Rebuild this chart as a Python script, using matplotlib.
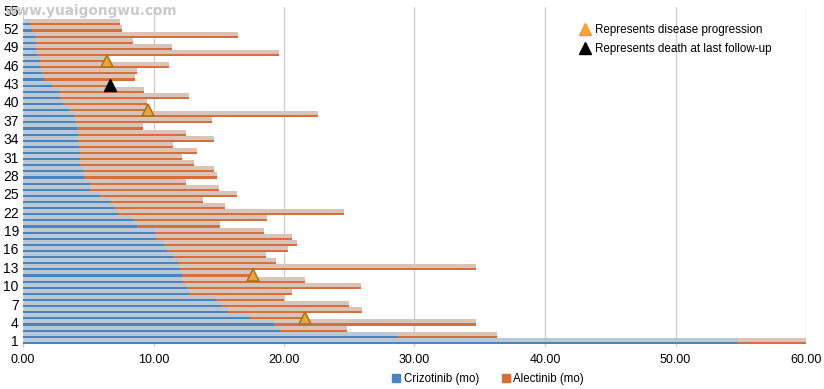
import matplotlib
matplotlib.use("Agg")
import matplotlib.pyplot as plt
from matplotlib.lines import Line2D
from matplotlib.patches import Patch
import numpy as np

plt.rcParams["font.family"] = ["Liberation Sans", "DejaVu Sans"]

# one row per patient, row 1 at the bottom
patients = list(range(1, 54))
crizotinib = [54.7, 28.7, 19.7, 19.2, 17.4, 15.7, 15.2, 14.8, 12.7, 12.6,
              12.2, 12.2, 12.0, 11.9, 11.5, 11.0, 10.8, 10.2, 10.1, 8.7,
              8.4, 7.3, 7.0, 6.7, 5.9, 5.1, 5.1, 4.7, 4.6, 4.4,
              4.4, 4.4, 4.3, 4.2, 4.2, 4.1, 4.0, 3.9, 3.5, 3.1,
              2.8, 2.8, 2.2, 1.6, 1.4, 1.3, 1.3, 1.1, 1.0, 1.0,
              0.9, 0.7, 0.5]
alectinib = [5.4, 7.6, 5.1, 15.5, 4.2, 10.3, 9.8, 5.2, 7.9, 13.3,
             9.4, 5.4, 22.7, 7.5, 7.1, 9.3, 10.2, 10.4, 8.4, 6.4,
             10.3, 17.3, 8.5, 7.1, 10.5, 9.9, 7.4, 10.2, 10.0, 8.7,
             7.8, 8.9, 7.2, 10.4, 8.3, 5.1, 10.5, 18.7, 6.1, 6.4,
             9.9, 6.5, 4.5, 7.0, 7.3, 9.9, 5.1, 18.5, 10.4, 7.4,
             15.6, 6.9, 6.9]
progression_rows = [5, 12, 39, 47]
death_rows = [43]
x_ticks = [0, 10, 20, 30, 40, 50, 60]
y_ticks = list(range(1, 56, 3))

blue_dark, blue_light = "#4a84bf", "#bac8d6"
orange_dark, orange_light = "#d66f3a", "#d9c4b9"

rows = np.array(patients)
criz = np.array(crizotinib)
alec = np.array(alectinib)
ends = criz + alec

fig = plt.figure(figsize=(8.24, 3.89), dpi=100)
ax = fig.add_axes([23 / 824, 1 - 347 / 389, 783 / 824, 340 / 389])

# light band with a darker strip along the lower edge of each bar
ax.barh(rows, criz, height=1.0, color=blue_light, zorder=2)
ax.barh(rows - 0.33, criz, height=0.34, color=blue_dark, zorder=3)
ax.barh(rows, alec, left=criz, height=1.0, color=orange_light, zorder=2)
ax.barh(rows - 0.33, alec, left=criz, height=0.34, color=orange_dark, zorder=3)

prog_idx = [patients.index(r) for r in progression_rows]
death_idx = [patients.index(r) for r in death_rows]
ax.plot(ends[prog_idx], rows[prog_idx] - 0.25, ls="none", marker="^", ms=8,
        mfc="#eba43a", mec="#a8771e", mew=1.2, zorder=5)
ax.plot(ends[death_idx], rows[death_idx] - 0.25, ls="none", marker="^", ms=8,
        mfc="black", mec="black", zorder=5)

ax.set_xlim(0, 60)
ax.set_ylim(0, 55.5)
ax.set_xticks(x_ticks)
ax.set_xticklabels([f"{v:.2f}" for v in x_ticks], fontsize=9)
ax.set_yticks(y_ticks)
ax.set_yticklabels([str(v) for v in y_ticks], fontsize=10)
ax.tick_params(length=0, pad=5)
ax.tick_params(axis="y", pad=3)
ax.grid(axis="x", color="#cfcfcf", lw=1, zorder=0)
for s in ["top", "right", "bottom"]:
    ax.spines[s].set_visible(False)
ax.spines["left"].set_color("#cfcfcf")

marker_handles = [
    Line2D([], [], ls="none", marker="^", ms=9, mfc="#f6a53c", mec="#f39a2c",
           label="Represents disease progression"),
    Line2D([], [], ls="none", marker="^", ms=9, mfc="black", mec="black",
           label="Represents death at last follow-up"),
]
ax.legend(handles=marker_handles, loc="upper left",
          bbox_to_anchor=(574 / 824, 1 - 18 / 389), bbox_transform=fig.transFigure,
          frameon=False, fontsize=8.4, handlelength=0.8, handletextpad=0.5,
          labelspacing=0.6, borderpad=0)

bar_handles = [Patch(color=blue_dark, label="Crizotinib (mo)"),
               Patch(color=orange_dark, label="Alectinib (mo)")]
fig.legend(handles=bar_handles, loc="center", bbox_to_anchor=(488 / 824, 1 - 379 / 389),
           ncol=2, frameon=False, fontsize=8.3, handlelength=0.7, handleheight=0.7,
           handletextpad=0.3, columnspacing=2.0, borderpad=0)

fig.text(5 / 824, 1 - 11 / 389, "www.yuaigongwu.com", fontsize=9.8,
         fontweight="bold", color="#c4c4c4", alpha=0.9, va="center",
         family=["DejaVu Sans"], zorder=10)

fig.savefig("out.png", dpi=100)
